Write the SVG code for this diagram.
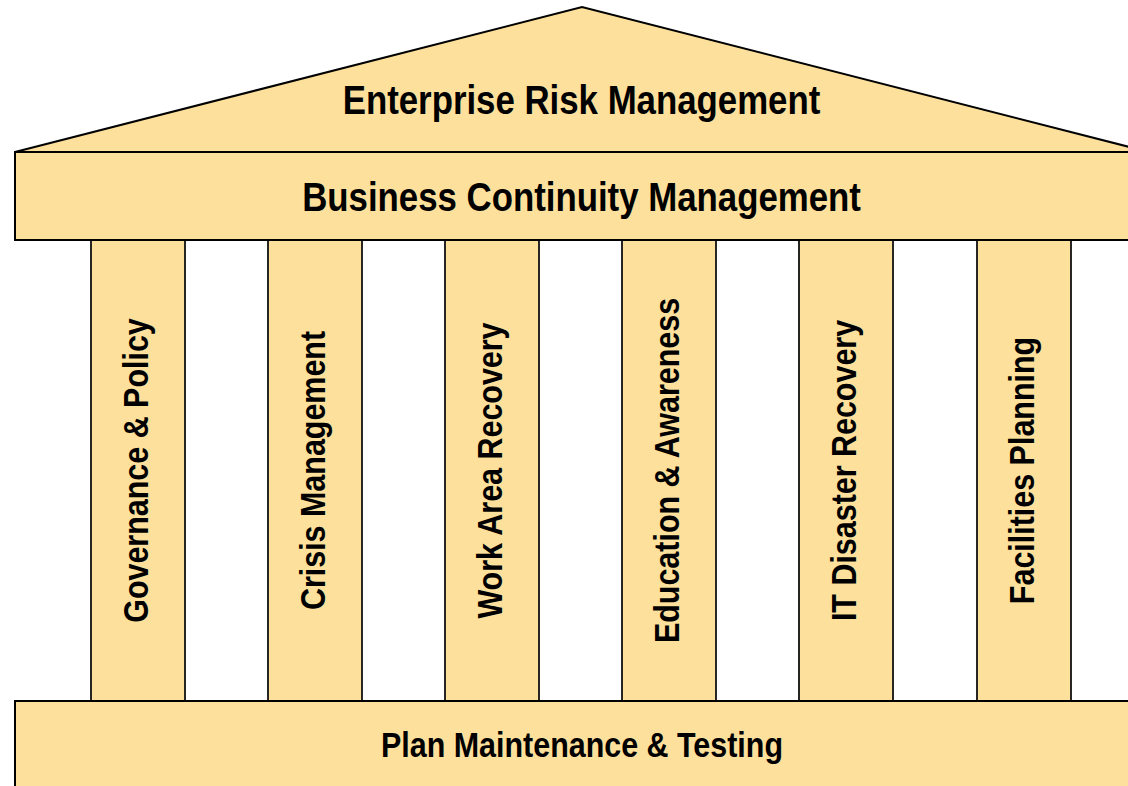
<svg xmlns="http://www.w3.org/2000/svg" width="1128" height="786" viewBox="0 0 1128 786">
  <style>
    .shape { fill: #FDE09B; stroke: #000; stroke-width: 2; stroke-linejoin: miter; }
    .col { fill: #FDE09B; stroke: #111; stroke-width: 1.8; }
    .lbl { font-family: "Liberation Sans", Arial, sans-serif; font-weight: bold; fill: #000; text-anchor: middle; }
    .big { font-size: 40px; }
    .mid { font-size: 35px; }
  </style>
  <rect width="1128" height="786" fill="#fff"/>
  <g id="connectors"></g>
  <g id="col-governance">
    <rect class="col" x="91" y="240" width="94" height="461"/>
    <text class="lbl mid" transform="translate(148,470.5) rotate(-90) scale(0.87,1)">Governance &amp; Policy</text>
  </g>
  <g id="col-crisis">
    <rect class="col" x="268" y="240" width="94" height="461"/>
    <text class="lbl mid" transform="translate(325,470.5) rotate(-90) scale(0.87,1)">Crisis Management</text>
  </g>
  <g id="col-workarea">
    <rect class="col" x="445" y="240" width="94" height="461"/>
    <text class="lbl mid" transform="translate(502,470.5) rotate(-90) scale(0.87,1)">Work Area Recovery</text>
  </g>
  <g id="col-education">
    <rect class="col" x="622" y="240" width="94" height="461"/>
    <text class="lbl mid" transform="translate(679,470.5) rotate(-90) scale(0.87,1)">Education &amp; Awareness</text>
  </g>
  <g id="col-itdr">
    <rect class="col" x="799" y="240" width="94" height="461"/>
    <text class="lbl mid" transform="translate(856,470.5) rotate(-90) scale(0.87,1)">IT Disaster Recovery</text>
  </g>
  <g id="col-facilities">
    <rect class="col" x="977" y="240" width="94" height="461"/>
    <text class="lbl mid" transform="translate(1034,470.5) rotate(-90) scale(0.87,1)">Facilities Planning</text>
  </g>
  <g id="roof">
    <polygon class="shape" points="15,152 582,7 1149,152"/>
    <text class="lbl big" transform="translate(581.5,114) scale(0.87,1)">Enterprise Risk Management</text>
  </g>
  <g id="beam">
    <rect class="shape" x="15" y="152" width="1140" height="88"/>
    <text class="lbl big" transform="translate(581.5,211) scale(0.87,1)">Business Continuity Management</text>
  </g>
  <g id="base">
    <rect class="shape" x="15" y="701" width="1140" height="100"/>
    <text class="lbl mid" transform="translate(582,757) scale(0.87,1)">Plan Maintenance &amp; Testing</text>
  </g>
</svg>
